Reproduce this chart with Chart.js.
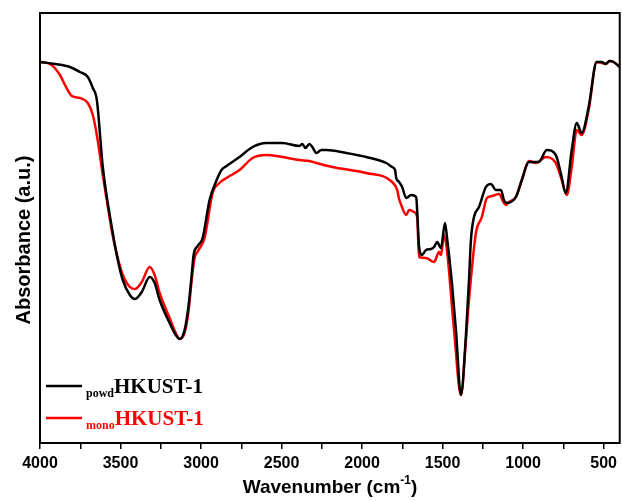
<!DOCTYPE html>
<html>
<head>
<meta charset="utf-8">
<script src="https://cdn.jsdelivr.net/npm/chart.js@4/dist/chart.umd.min.js"></script>
<style>
  body { margin: 0; background: #fff; }
  canvas { display: block; }
</style>
</head>
<body>
<canvas id="ftir" width="622" height="501"></canvas>
<script>
// FTIR spectra (absorbance in arbitrary units)
var powdWavenumber = [4000, 3907, 3814, 3752, 3703, 3672, 3647, 3610, 3548, 3517, 3486, 3442, 3411, 3368, 3319, 3288, 3257, 3195, 3157, 3133, 3102, 3077, 3058, 3046, 3021, 2990, 2947, 2903, 2873, 2842, 2761, 2680, 2594, 2495, 2389, 2371, 2352, 2327, 2309, 2284, 2253, 2222, 2098, 1974, 1850, 1813, 1795, 1788, 1770, 1751, 1726, 1695, 1664, 1658, 1646, 1627, 1603, 1572, 1553, 1534, 1510, 1485, 1473, 1442, 1417, 1386, 1355, 1336, 1324, 1305, 1274, 1231, 1200, 1169, 1138, 1119, 1101, 1045, 1008, 964, 903, 853, 797, 766, 735, 698, 667, 636, 593, 543, 512, 487, 463, 438, 401];
var powdAbs = [381, 379, 376, 371, 366, 355, 343, 276, 210, 183, 163, 148, 144, 151, 166, 160, 143, 120, 108, 104, 113, 138, 168, 188, 197, 205, 243, 263, 273, 277, 286, 296, 300, 300, 297, 299, 295, 299, 296, 290, 293, 293, 290, 286, 280, 276, 273, 265, 261, 256, 245, 248, 246, 233, 196, 188, 193, 194, 196, 201, 195, 220, 206, 160, 113, 48, 108, 163, 203, 226, 236, 256, 259, 253, 253, 243, 240, 246, 263, 281, 281, 293, 288, 270, 250, 293, 320, 310, 336, 381, 381, 379, 382, 381, 376];

var monoWavenumber = [4000, 3938, 3876, 3845, 3802, 3752, 3703, 3672, 3647, 3610, 3548, 3517, 3486, 3442, 3411, 3368, 3319, 3288, 3257, 3195, 3157, 3133, 3102, 3077, 3058, 3040, 3015, 2978, 2928, 2885, 2842, 2761, 2680, 2594, 2495, 2389, 2327, 2284, 2185, 1974, 1813, 1782, 1770, 1757, 1726, 1708, 1677, 1658, 1646, 1603, 1553, 1522, 1510, 1491, 1473, 1429, 1386, 1355, 1336, 1293, 1256, 1225, 1194, 1150, 1119, 1107, 1088, 1045, 1008, 964, 921, 859, 797, 760, 729, 698, 667, 636, 593, 543, 512, 487, 463, 438, 401];
var monoAbs = [381, 379, 368, 358, 347, 345, 340, 328, 308, 268, 207, 185, 168, 156, 154, 161, 176, 168, 150, 125, 110, 104, 110, 133, 163, 185, 193, 205, 250, 260, 265, 273, 285, 288, 286, 283, 282, 280, 276, 270, 261, 253, 244, 238, 228, 233, 231, 226, 186, 185, 181, 191, 188, 208, 193, 113, 48, 103, 143, 210, 226, 245, 247, 249, 240, 238, 241, 246, 263, 282, 280, 286, 280, 263, 248, 276, 313, 308, 333, 381, 380, 379, 382, 381, 376];

var xTickValues = [4000, 3500, 3000, 2500, 2000, 1500, 1000, 500];

function toPoints(xs, ys) {
    return xs.map(function(x, i) { return {x: x, y: ys[i]}; });
}

// frame, legend with subscripts, and both axis titles
var decorPlugin = {
    id: 'decor',
    afterDraw: function(chart) {
        var ctx = chart.ctx;
        var a = chart.chartArea;
        ctx.save();
        ctx.strokeStyle = '#000';
        ctx.lineWidth = 2;
        ctx.strokeRect(a.left, a.top, a.right - a.left, a.bottom - a.top);

        var rows = [
            {sub: 'powd', color: '#000000', lineY: 386, base: 393},
            {sub: 'mono', color: '#ff0000', lineY: 418, base: 425}
        ];
        rows.forEach(function(r) {
            ctx.strokeStyle = r.color;
            ctx.lineWidth = 2.5;
            ctx.beginPath();
            ctx.moveTo(46, r.lineY);
            ctx.lineTo(82, r.lineY);
            ctx.stroke();
            ctx.fillStyle = r.color;
            ctx.textBaseline = 'alphabetic';
            ctx.textAlign = 'left';
            ctx.font = 'bold 12px "Liberation Serif"';
            ctx.fillText(r.sub, 86, r.base + 4);
            var w = ctx.measureText(r.sub).width;
            ctx.font = 'bold 21px "Liberation Serif"';
            ctx.fillText('HKUST-1', 86 + w, r.base);
        });

        // x axis title
        ctx.fillStyle = '#000';
        var main = 'Wavenumber (cm';
        ctx.font = 'bold 19px "Liberation Sans"';
        var w1 = ctx.measureText(main).width;
        var w3 = ctx.measureText(')').width;
        ctx.font = 'bold 12px "Liberation Sans"';
        var w2 = ctx.measureText('-1').width;
        var x0 = 330 - (w1 + w2 + w3) / 2;
        ctx.font = 'bold 19px "Liberation Sans"';
        ctx.fillText(main, x0, 493);
        ctx.font = 'bold 12px "Liberation Sans"';
        ctx.fillText('-1', x0 + w1, 484);
        ctx.font = 'bold 19px "Liberation Sans"';
        ctx.fillText(')', x0 + w1 + w2, 493);

        // y axis title
        ctx.translate(24, 240);
        ctx.rotate(-Math.PI / 2);
        ctx.textAlign = 'center';
        ctx.textBaseline = 'middle';
        ctx.font = 'bold 20px "Liberation Sans"';
        ctx.fillText('Absorbance (a.u.)', 0, 0);
        ctx.restore();
    }
};

var ctx = document.getElementById('ftir').getContext('2d');
new Chart(ctx, {
    type: 'line',
    data: {
        datasets: [{
            label: 'powdHKUST-1',
            data: toPoints(powdWavenumber, powdAbs),
            borderColor: '#000000',
            borderWidth: 2.5,
            pointRadius: 0,
            cubicInterpolationMode: 'monotone',
            fill: false
        }, {
            label: 'monoHKUST-1',
            data: toPoints(monoWavenumber, monoAbs),
            borderColor: '#ff0000',
            borderWidth: 2.5,
            pointRadius: 0,
            cubicInterpolationMode: 'monotone',
            fill: false
        }]
    },
    options: {
        responsive: false,
        animation: false,
        layout: {padding: {top: 13, right: 1, left: 0, bottom: 0}},
        plugins: {
            legend: {display: false},
            tooltip: {enabled: false}
        },
        scales: {
            x: {
                type: 'linear',
                reverse: true,
                min: 400,
                max: 4000,
                afterFit: function(scale) { scale.height = 58; },
                border: {display: false},
                grid: {
                    display: true,
                    drawOnChartArea: false,
                    drawTicks: true,
                    tickLength: 6,
                    color: '#000',
                    lineWidth: 1.5
                },
                ticks: {
                    stepSize: 250,
                    includeBounds: false,
                    autoSkip: false,
                    maxRotation: 0,
                    padding: 5,
                    color: '#000',
                    font: {family: '"Liberation Sans"', size: 16, weight: 'bold'},
                    callback: function(v) { return xTickValues.indexOf(v) >= 0 ? String(v) : ''; }
                }
            },
            y: {
                min: 0,
                max: 430,
                afterFit: function(scale) { scale.width = 40; },
                border: {display: false},
                grid: {display: false},
                ticks: {display: false}
            }
        }
    },
    plugins: [decorPlugin]
});
</script>
</body>
</html>
